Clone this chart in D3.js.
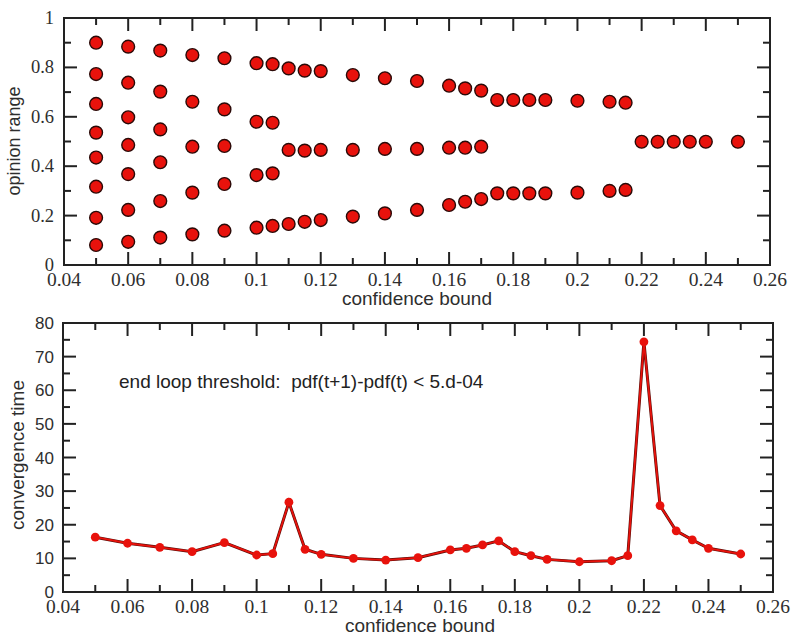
<!DOCTYPE html>
<html><head><meta charset="utf-8">
<script src="https://cdn.jsdelivr.net/npm/d3@7"></script>
<style>body{margin:0;background:#fff}svg{display:block}</style>
</head><body>
<script>
// Top panel: opinion clusters per confidence bound
const boundsTop = [0.05,0.06,0.07,0.08,0.09,0.1,0.105,0.11,0.115,0.12,0.13,0.14,0.15,0.16,0.165,0.17,0.175,0.18,0.185,0.19,0.2,0.21,0.215,0.22,0.225,0.23,0.235,0.24,0.25];
const clusters = [
  [0.900,0.773,0.652,0.536,0.435,0.317,0.191,0.081],
  [0.884,0.738,0.598,0.486,0.368,0.223,0.094],
  [0.868,0.702,0.549,0.416,0.259,0.111],
  [0.850,0.661,0.479,0.293,0.124],
  [0.837,0.630,0.482,0.328,0.139],
  [0.817,0.580,0.364,0.151],
  [0.813,0.576,0.371,0.158],
  [0.796,0.466,0.166],
  [0.787,0.463,0.175],
  [0.785,0.466,0.182],
  [0.769,0.466,0.196],
  [0.756,0.470,0.209],
  [0.745,0.470,0.223],
  [0.726,0.475,0.243],
  [0.715,0.475,0.256],
  [0.706,0.479,0.267],
  [0.668,0.290],
  [0.668,0.290],
  [0.668,0.290],
  [0.668,0.290],
  [0.665,0.293],
  [0.661,0.300],
  [0.657,0.304],
  [0.499],[0.499],[0.499],[0.499],[0.499],[0.499]
];
// Bottom panel: convergence time
const boundsBottom = [0.05,0.06,0.07,0.08,0.09,0.1,0.105,0.11,0.115,0.12,0.13,0.14,0.15,0.16,0.165,0.17,0.175,0.18,0.185,0.19,0.2,0.21,0.215,0.22,0.225,0.23,0.235,0.24,0.25];
const convTime = [16.3,14.5,13.3,12.0,14.7,11.0,11.4,26.7,12.7,11.2,10.0,9.5,10.2,12.5,13.0,14.0,15.2,12.0,10.8,9.7,9.0,9.3,10.8,74.4,25.7,18.2,15.5,13.0,11.3];
const xTicks = [0.04,0.06,0.08,0.1,0.12,0.14,0.16,0.18,0.2,0.22,0.24,0.26];
const yTicksTop = [0,0.2,0.4,0.6,0.8,1];
const yTicksBottom = [0,10,20,30,40,50,60,70,80];
const annotation = "end loop threshold:  pdf(t+1)-pdf(t) < 5.d-04";

const W = 791, H = 639;
const svg = d3.select("body").append("svg").attr("width", W).attr("height", H);
const serif = "'Liberation Serif','Times New Roman',serif";
const sans = "'Liberation Sans',Arial,sans-serif";
const red = "#e8120c", dark = "#2a0a08", txt = "#2e2e2e";

function frame(g, x, y, yMinor) {
  const [x0, x1] = x.range(), [y0, y1] = y.range();
  const maj = 13, min = 7;
  const xMaj = new Set(xTicks.map(d => d.toFixed(3)));
  const xAll = d3.range(0.04, 0.2601, 0.01).map(d => +d.toFixed(3));
  xAll.forEach(d => {
    const L = xMaj.has(d.toFixed(3)) ? maj : min, px = x(d);
    g.append("line").attr("x1", px).attr("x2", px).attr("y1", y0).attr("y2", y0 - L);
    g.append("line").attr("x1", px).attr("x2", px).attr("y1", y1).attr("y2", y1 + L);
  });
  const [dom0, dom1] = y.domain();
  const yAll = d3.range(dom0, dom1 + yMinor / 2, yMinor);
  yAll.forEach((d, i) => {
    const L = i % 2 === 0 ? maj : min, py = y(d);
    g.append("line").attr("x1", x0).attr("x2", x0 + L).attr("y1", py).attr("y2", py);
    g.append("line").attr("x1", x1).attr("x2", x1 - L).attr("y1", py).attr("y2", py);
  });
  g.selectAll("line").attr("stroke", "#222").attr("stroke-width", 2);
  g.append("rect").attr("x", x0).attr("y", y1).attr("width", x1 - x0).attr("height", y0 - y1)
    .attr("fill", "none").attr("stroke", "#222").attr("stroke-width", 2);
  g.selectAll(".xl").data(xTicks).enter().append("text")
    .attr("x", d => x(d)).attr("y", y0 + 21).attr("text-anchor", "middle")
    .attr("font-family", serif).attr("font-size", 19.5).attr("fill", txt)
    .text(d => String(+d.toFixed(2)));
}

// ---------- Top panel ----------
const xT = d3.scaleLinear().domain([0.04, 0.26]).range([64, 770]);
const yT = d3.scaleLinear().domain([0, 1]).range([265, 18]);
const gT = svg.append("g");
frame(gT, xT, yT, 0.1);
gT.selectAll(".yl").data(yTicksTop).enter().append("text")
  .attr("x", 54).attr("y", d => yT(d) + 6).attr("text-anchor", "end")
  .attr("font-family", serif).attr("font-size", 18.5).attr("fill", txt)
  .text(d => String(d));
const pts = [];
boundsTop.forEach((b, i) => clusters[i].forEach(v => pts.push({ b, v })));
gT.selectAll("circle").data(pts).enter().append("circle")
  .attr("cx", d => xT(d.b)).attr("cy", d => yT(d.v)).attr("r", 6.4)
  .attr("fill", red).attr("stroke", dark).attr("stroke-width", 1.4);
svg.append("text").attr("transform", `translate(20,141) rotate(-90)`)
  .attr("text-anchor", "middle").attr("font-family", sans).attr("font-size", 18).attr("fill", txt)
  .text("opinion range");
svg.append("text").attr("x", 417).attr("y", 305).attr("text-anchor", "middle")
  .attr("font-family", sans).attr("font-size", 19).attr("fill", txt).text("confidence bound");

// ---------- Bottom panel ----------
const xB = d3.scaleLinear().domain([0.04, 0.26]).range([63, 773]);
const yB = d3.scaleLinear().domain([0, 80]).range([592, 323]);
const gB = svg.append("g");
frame(gB, xB, yB, 5);
gB.selectAll(".yl").data(yTicksBottom).enter().append("text")
  .attr("x", 54).attr("y", d => yB(d) + 6).attr("text-anchor", "end")
  .attr("font-family", sans).attr("font-size", 17).attr("fill", txt)
  .text(d => String(d));
const line = d3.line().x((d, i) => xB(boundsBottom[i])).y(d => yB(d));
gB.append("path").datum(convTime).attr("d", line).attr("fill", "none")
  .attr("stroke", "#5a0d08").attr("stroke-width", 3);
gB.append("path").datum(convTime).attr("d", line).attr("fill", "none")
  .attr("stroke", red).attr("stroke-width", 1.8);
gB.selectAll("circle").data(convTime).enter().append("circle")
  .attr("cx", (d, i) => xB(boundsBottom[i])).attr("cy", d => yB(d)).attr("r", 4.4)
  .attr("fill", red);
gB.append("text").attr("x", 119).attr("y", 388).attr("font-family", sans)
  .attr("font-size", 19).attr("fill", "#222")
  .style("white-space", "pre").text(annotation);
svg.append("text").attr("transform", `translate(24,455) rotate(-90)`)
  .attr("text-anchor", "middle").attr("font-family", sans).attr("font-size", 19).attr("fill", txt)
  .text("convergence time");
svg.append("text").attr("x", 420).attr("y", 632).attr("text-anchor", "middle")
  .attr("font-family", sans).attr("font-size", 19).attr("fill", txt).text("confidence bound");
</script>
</body></html>
